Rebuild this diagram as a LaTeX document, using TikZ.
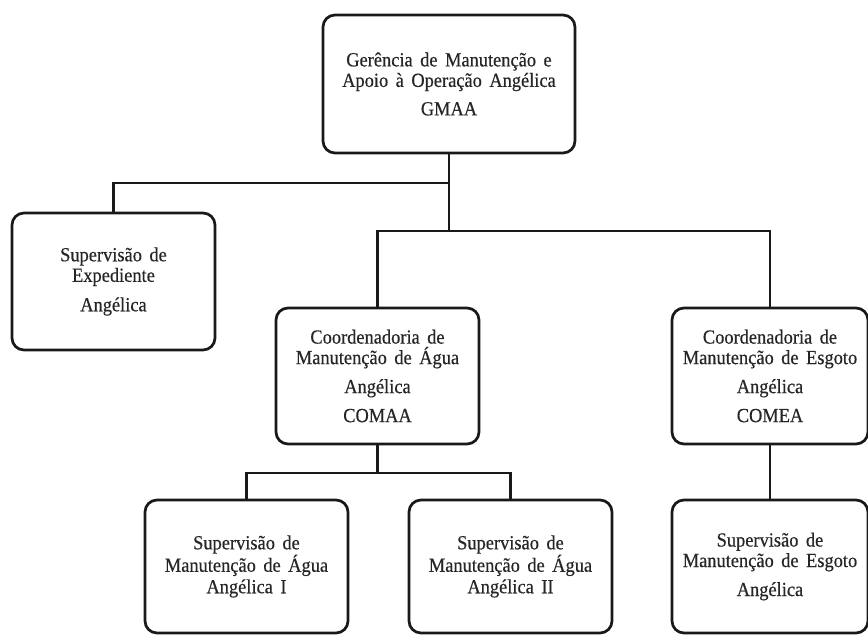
\documentclass[tikz,border=0pt]{standalone}
\usepackage{fontspec}
\setmainfont[FakeStretch=0.92,FakeBold=0.4]{Liberation Serif}
\newcommand\orgfont{\fontsize{20}{20.5}\selectfont\spaceskip=7.5pt plus 0pt minus 0pt\relax}
\begin{document}
\begin{tikzpicture}[x=1pt,y=-1pt,
  orgbox/.style={draw=black!90, line width=2.7pt, rounded corners=12pt, inner sep=0pt,
    align=center, text=black!85, font=\orgfont},
  link/.style={draw=black!90, line width=2.7pt}]
\useasboundingbox (0,0) rectangle (868,635);
\fill[white] (0,0) rectangle (868,635);

\node[orgbox, minimum width=252pt, minimum height=138pt] (top) at (449,84)
  {Gerência de Manutenção e\\Apoio à Operação Angélica\\[8pt]GMAA};
\node[orgbox, minimum width=203pt, minimum height=137pt] (exp) at (113.5,281.5)
  {Supervisão de\\Expediente\\[9pt]Angélica};
\node[orgbox, minimum width=203pt, minimum height=136pt] (comaa) at (377.5,376)
  {Coordenadoria de\\Manutenção de Água\\[8.5pt]Angélica\\[8.5pt]COMAA};
\node[orgbox, minimum width=196pt, minimum height=136pt] (comea) at (770,376)
  {Coordenadoria de\\Manutenção de Esgoto\\[8.5pt]Angélica\\[8.5pt]COMEA};
\node[orgbox, minimum width=203pt, minimum height=133pt] (s1) at (246.5,566.5)
  {Supervisão de\\Manutenção de Água\\[1pt]Angélica I};
\node[orgbox, minimum width=203pt, minimum height=133pt] (s2) at (510.5,566.5)
  {Supervisão de\\Manutenção de Água\\[1pt]Angélica II};
\node[orgbox, minimum width=196pt, minimum height=133pt] (s3) at (770,566.5)
  {Supervisão de\\Manutenção de Esgoto\\[8.5pt]Angélica};

\coordinate (j1) at (449,183);
\coordinate (j2) at (449,231);
\coordinate (j3) at (377.5,473);

\draw[link] (top.south) -- (j2);
\draw[link] (j1) -| (exp.north);
\draw[link] (j2) -| (comaa.north);
\draw[link] (j2) -| (comea.north);
\draw[link] (comaa.south) -- (j3);
\draw[link] (j3) -| (s1.north);
\draw[link] (j3) -| (s2.north);
\draw[link] (comea.south) -- (s3.north);
\end{tikzpicture}
\end{document}
